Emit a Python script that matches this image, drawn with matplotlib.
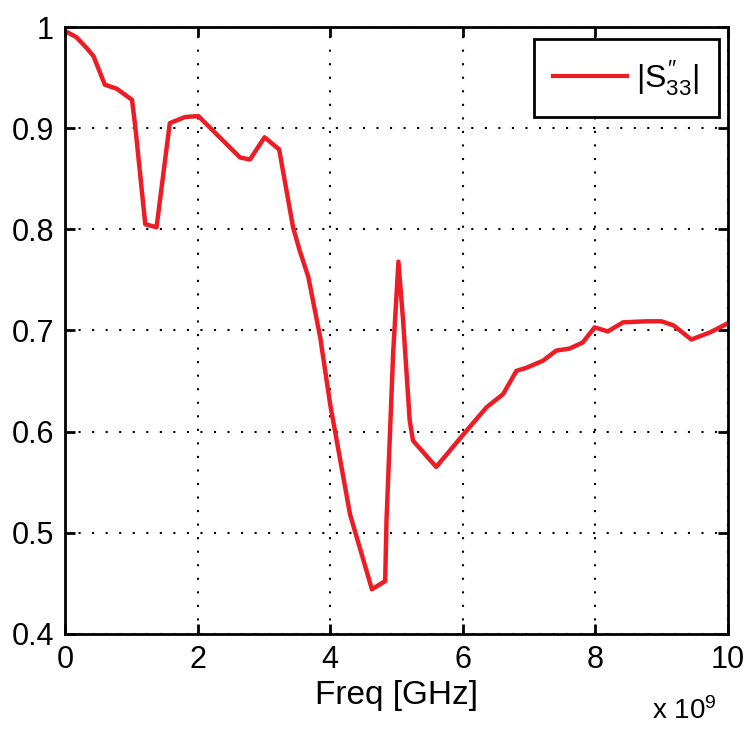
import matplotlib.pyplot as plt

plt.rcParams['font.family'] = ['Liberation Sans', 'DejaVu Sans']
plt.rcParams['mathtext.fontset'] = 'custom'
plt.rcParams['mathtext.rm'] = 'Liberation Sans'
plt.rcParams['mathtext.it'] = 'Liberation Sans'

# frequency in GHz (axis shows x 10^9 multiplier)
freq = [0.0, 0.03, 0.17, 0.33, 0.43, 0.60, 0.78, 1.01, 1.06, 1.21, 1.38, 1.58,
        1.81, 2.01, 2.64, 2.79, 3.01, 3.23, 3.44, 3.54, 3.67, 3.85, 4.0, 4.30,
        4.63, 4.83, 4.85, 4.95, 5.03, 5.10, 5.20, 5.25, 5.60, 6.06, 6.36, 6.61,
        6.81, 6.96, 7.21, 7.41, 7.61, 7.81, 7.99, 8.19, 8.42, 8.77, 9.0, 9.18,
        9.45, 9.73, 10.0]
s33 = [0.996, 0.995, 0.990, 0.979, 0.971, 0.943, 0.939, 0.928, 0.901, 0.805,
       0.802, 0.905, 0.911, 0.912, 0.871, 0.869, 0.891, 0.879, 0.802, 0.779,
       0.753, 0.693, 0.627, 0.518, 0.444, 0.452, 0.512, 0.677, 0.768, 0.710,
       0.611, 0.591, 0.565, 0.601, 0.624, 0.637, 0.660, 0.663, 0.670, 0.680,
       0.682, 0.688, 0.703, 0.699, 0.708, 0.709, 0.709, 0.705, 0.691, 0.698,
       0.707]

xticks = [0, 2, 4, 6, 8, 10]
yticks = [0.4, 0.5, 0.6, 0.7, 0.8, 0.9, 1.0]
ytick_labels = ['0.4', '0.5', '0.6', '0.7', '0.8', '0.9', '1']

fig = plt.figure(figsize=(7.48, 7.31), dpi=100)
ax = fig.add_axes([0.087, 0.133, 0.886, 0.830])

ax.plot(freq, s33, color='#ee1c24', lw=3.2, label=r'$|S^{\prime\prime}_{33}|$')

ax.set_xlim(0, 10)
ax.set_ylim(0.4, 1.0)
ax.set_xticks(xticks)
ax.set_yticks(yticks)
ax.set_yticklabels(ytick_labels)
ax.grid(True, color='black', linestyle=(0, (1, 5.5)), linewidth=1.5)
ax.tick_params(direction='in', top=True, right=True, length=7, width=2,
               labelsize=22, pad=8)
for s in ax.spines.values():
    s.set_linewidth(2)

ax.set_xlabel('Freq [GHz]', fontsize=24, labelpad=4)
fig.text(0.872, 0.008, r'x 10$^9$', fontsize=20, ha='left', va='bottom')

leg = ax.legend(loc='upper right', bbox_to_anchor=(0.986, 0.980),
                borderaxespad=0, fontsize=23, frameon=True, fancybox=False,
                handlelength=2.3, handletextpad=0.3, borderpad=0.6)
leg.get_frame().set_edgecolor('black')
leg.get_frame().set_linewidth(2)
leg.get_frame().set_alpha(1)
leg.get_lines()[0].set_linewidth(3)

fig.savefig('out.png', dpi=100)
